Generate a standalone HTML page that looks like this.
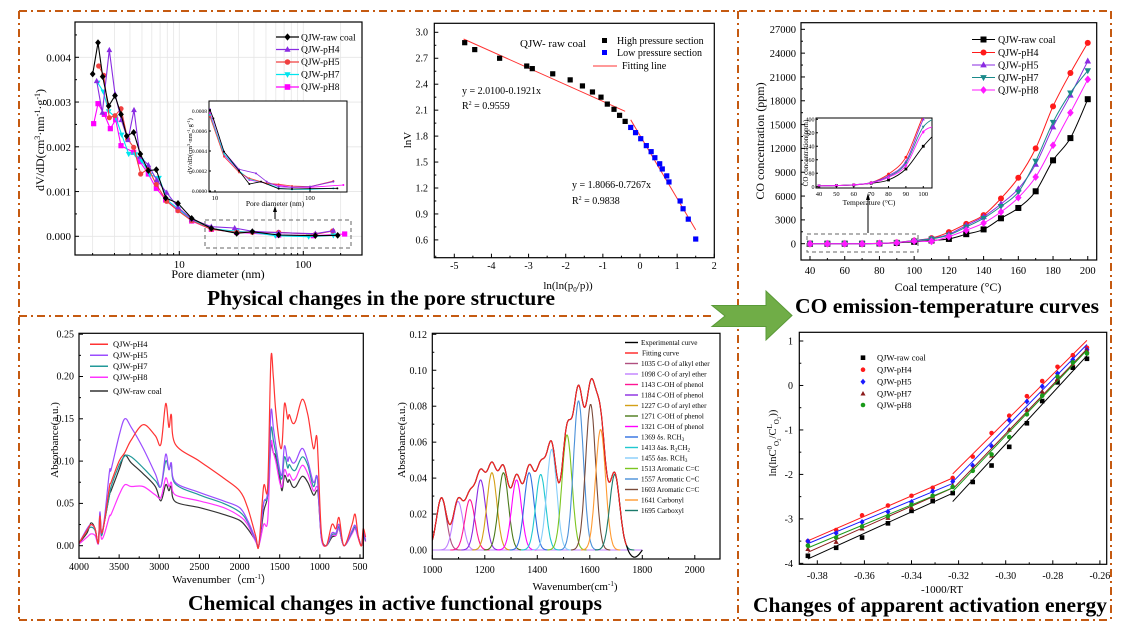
<!DOCTYPE html>
<html><head><meta charset="utf-8">
<style>
html,body{margin:0;padding:0;background:#fff;}
svg{display:block;font-family:"Liberation Serif",serif;}
.t{font-family:"Liberation Serif",serif;fill:#000;}
</style></head>
<body>
<svg id="s" width="1127" height="628" viewBox="0 0 1127 628" xmlns="http://www.w3.org/2000/svg">
<rect width="1127" height="628" fill="#fff"/>
<defs>
<clipPath id="c1"><rect x="75" y="22" width="287" height="233"/></clipPath>
<clipPath id="c1i"><rect x="209" y="101" width="138" height="91"/></clipPath>
<clipPath id="c3i"><rect x="816" y="118" width="116" height="70"/></clipPath>
<clipPath id="c5"><rect x="432" y="333" width="288" height="226"/></clipPath>
</defs>
<g id="borders" fill="none" stroke="#c55a11" stroke-width="2" stroke-dasharray="8 4 2 4">
<line x1="19" y1="11" x2="1111" y2="11"/>
<line x1="19" y1="620" x2="1111" y2="620"/>
<line x1="19" y1="11" x2="19" y2="620"/>
<line x1="1111" y1="11" x2="1111" y2="620"/>
<line x1="19" y1="316" x2="712" y2="316"/>
<line x1="738" y1="11" x2="738" y2="620"/>
</g>
<polygon points="712,305.5 766,305.5 766,291 792,315.5 766,340 766,326.5 712,326.5 725,316" fill="#70ad47" stroke="#5a9a38" stroke-width="1"/>

<!-- Panel 1 -->
<g id="p1"></g>
<rect x="75" y="22" width="287" height="233" fill="none" stroke="#000" stroke-width="1.2"/>
<g class="t" font-size="11" text-anchor="end">
<text x="71" y="240">0.000</text><text x="71" y="195.5">0.001</text><text x="71" y="150.8">0.002</text><text x="71" y="106">0.003</text><text x="71" y="61.3">0.004</text>
</g>
<g class="t" font-size="11" text-anchor="middle"><text x="179.3" y="268">10</text><text x="303.3" y="268">100</text></g>
<text class="t" x="218" y="278" font-size="12" text-anchor="middle">Pore diameter (nm)</text>
<text class="t" font-size="12" text-anchor="middle" transform="translate(44,140) rotate(-90)">dV/dD(cm<tspan font-size="8" dy="-4">3</tspan><tspan dy="4">·nm</tspan><tspan font-size="8" dy="-4">-1</tspan><tspan dy="4">·g</tspan><tspan font-size="8" dy="-4">-1</tspan><tspan dy="4">)</tspan></text>
<g class="t" font-size="9.5"><text x="301" y="40.5">QJW-raw coal</text><text x="301" y="52.5">QJW-pH4</text><text x="301" y="65">QJW-pH5</text><text x="301" y="77.5">QJW-pH7</text><text x="301" y="90">QJW-pH8</text></g>
<rect x="209" y="101" width="138" height="91" fill="#fff" stroke="#000" stroke-width="1"/>
<g id="p1i"></g>
<g class="t" font-size="5.5" text-anchor="end"><text x="207" y="113">0.0008</text><text x="207" y="133">0.0006</text><text x="207" y="153">0.0004</text><text x="207" y="173">0.0002</text><text x="207" y="193">0.0000</text></g>
<g class="t" font-size="6.5" text-anchor="middle"><text x="215" y="200">10</text><text x="310" y="200">100</text></g>
<text class="t" x="275" y="206" font-size="7.5" text-anchor="middle">Pore diameter (nm)</text>
<text class="t" font-size="6.5" text-anchor="middle" transform="translate(192,146) rotate(-90)">dV/dD(cm<tspan font-size="4.5" dy="-2">3</tspan><tspan dy="2">·nm</tspan><tspan font-size="4.5" dy="-2">-1</tspan><tspan dy="2">·g</tspan><tspan font-size="4.5" dy="-2">-1</tspan><tspan dy="2">)</tspan></text>
<rect x="205" y="220" width="146" height="28" fill="none" stroke="#666" stroke-dasharray="4 3"/>
<line x1="275" y1="219" x2="275" y2="210" stroke="#000"/><polygon points="275,206 273,212 277,212" fill="#000"/>
<text class="t" x="207" y="305" font-size="21" font-weight="bold" textLength="348" lengthAdjust="spacingAndGlyphs">Physical changes in the pore structure</text>

<!-- Panel 2 -->
<g id="p2"></g>
<rect x="434.3" y="23.3" width="280" height="234.4" fill="none" stroke="#000" stroke-width="1.2"/>
<g class="t" font-size="10" text-anchor="end">
<text x="428" y="35.5">3.0</text><text x="428" y="61.5">2.7</text><text x="428" y="87.5">2.4</text><text x="428" y="113.5">2.1</text><text x="428" y="139.5">1.8</text><text x="428" y="165.5">1.5</text><text x="428" y="191.5">1.2</text><text x="428" y="217.5">0.9</text><text x="428" y="243.5">0.6</text>
</g>
<g class="t" font-size="10" text-anchor="middle">
<text x="454.3" y="269">-5</text><text x="491.4" y="269">-4</text><text x="528.6" y="269">-3</text><text x="565.7" y="269">-2</text><text x="602.9" y="269">-1</text><text x="640" y="269">0</text><text x="677.1" y="269">1</text><text x="714.3" y="269">2</text>
</g>
<text class="t" x="568" y="289" font-size="11" text-anchor="middle">ln(ln(p<tspan font-size="7" dy="3">0</tspan><tspan dy="-3">/p))</tspan></text>
<text class="t" font-size="11" text-anchor="middle" transform="translate(411,140) rotate(-90)">lnV</text>
<text class="t" x="520" y="47" font-size="11">QJW- raw coal</text>
<g class="t" font-size="10"><text x="617" y="44">High pressure section</text><text x="617" y="56">Low pressure section</text><text x="622" y="69">Fitting line</text></g>
<rect x="602" y="38" width="5" height="5" fill="#000"/><rect x="602" y="50" width="5" height="5" fill="#00f"/>
<line x1="593" y1="66" x2="617" y2="66" stroke="#f33"/>
<g class="t" font-size="10"><text x="462" y="94">y = 2.0100-0.1921x</text><text x="462" y="109">R<tspan font-size="6" dy="-4">2</tspan><tspan dy="4"> = 0.9559</tspan></text>
<text x="572" y="188">y = 1.8066-0.7267x</text><text x="572" y="204">R<tspan font-size="6" dy="-4">2</tspan><tspan dy="4"> = 0.9838</tspan></text></g>

<!-- Panel 3 -->
<g id="p3"></g>
<rect x="801" y="22.7" width="295.7" height="237.3" fill="none" stroke="#000" stroke-width="1.2"/>
<g class="t" font-size="10.5" text-anchor="end">
<text x="796" y="247.5">0</text><text x="796" y="223.7">3000</text><text x="796" y="199.9">6000</text><text x="796" y="176">9000</text><text x="796" y="152.2">12000</text><text x="796" y="128.4">15000</text><text x="796" y="104.6">18000</text><text x="796" y="80.8">21000</text><text x="796" y="57">24000</text><text x="796" y="33.2">27000</text>
</g>
<g class="t" font-size="10.5" text-anchor="middle">
<text x="810" y="274">40</text><text x="844.7" y="274">60</text><text x="879.4" y="274">80</text><text x="914.2" y="274">100</text><text x="948.9" y="274">120</text><text x="983.6" y="274">140</text><text x="1018.3" y="274">160</text><text x="1053" y="274">180</text><text x="1087.7" y="274">200</text>
</g>
<text class="t" x="948" y="291" font-size="12" text-anchor="middle">Coal temperature (°C)</text>
<text class="t" font-size="12" text-anchor="middle" transform="translate(764,141) rotate(-90)">CO concentration (ppm)</text>
<g class="t" font-size="10"><text x="998" y="43">QJW-raw coal</text><text x="998" y="56">QJW-pH4</text><text x="998" y="68.5">QJW-pH5</text><text x="998" y="81">QJW-pH7</text><text x="998" y="93.5">QJW-pH8</text></g>
<rect x="816" y="118" width="116" height="70" fill="#fff" stroke="#000"/>
<g id="p3i"></g>
<g class="t" font-size="6" text-anchor="end"><text x="814.5" y="189">0</text><text x="814.5" y="175.5">80</text><text x="814.5" y="162">160</text><text x="814.5" y="148.5">240</text><text x="814.5" y="135">320</text><text x="814.5" y="121.5">400</text></g>
<g class="t" font-size="6.5" text-anchor="middle"><text x="819" y="196">40</text><text x="836.4" y="196">50</text><text x="853.8" y="196">60</text><text x="871.2" y="196">70</text><text x="888.5" y="196">80</text><text x="905.9" y="196">90</text><text x="923.3" y="196">100</text></g>
<text class="t" x="869" y="205" font-size="7.5" text-anchor="middle">Temperature (°C)</text>
<text class="t" font-size="7" text-anchor="middle" transform="translate(808,153) rotate(-90)">CO concentration(ppm)</text>
<rect x="807" y="234" width="111" height="18" fill="none" stroke="#666" stroke-dasharray="4 3"/>
<line x1="868" y1="233" x2="868" y2="198" stroke="#000"/><polygon points="868,193 866,200 870,200" fill="#000"/>
<text class="t" x="795" y="313" font-size="21" font-weight="bold" textLength="304" lengthAdjust="spacingAndGlyphs">CO emission-temperature curves</text>

<!-- Panel 4 -->
<g id="p4"></g>
<rect x="79" y="333.3" width="284.3" height="225" fill="none" stroke="#000" stroke-width="1.2"/>
<g class="t" font-size="10" text-anchor="end">
<text x="74" y="549">0.00</text><text x="74" y="506.7">0.05</text><text x="74" y="464.4">0.10</text><text x="74" y="422">0.15</text><text x="74" y="379.7">0.20</text><text x="74" y="337.4">0.25</text>
</g>
<g class="t" font-size="10" text-anchor="middle">
<text x="79" y="570">4000</text><text x="119.1" y="570">3500</text><text x="159.3" y="570">3000</text><text x="199.4" y="570">2500</text><text x="239.6" y="570">2000</text><text x="279.7" y="570">1500</text><text x="319.8" y="570">1000</text><text x="360" y="570">500</text>
</g>
<text class="t" x="222" y="583" font-size="11" text-anchor="middle">Wavenumber（cm<tspan font-size="7" dy="-4">-1</tspan><tspan dy="4">）</tspan></text>
<text class="t" font-size="11" text-anchor="middle" transform="translate(58,440) rotate(-90)">Absorbance(a.u.)</text>
<g class="t" font-size="8.5"><text x="113" y="347">QJW-pH4</text><text x="113" y="358">QJW-pH5</text><text x="113" y="369">QJW-pH7</text><text x="113" y="380">QJW-pH8</text><text x="113" y="394">QJW-raw coal</text></g>
<g stroke-width="1.5"><line x1="90" y1="344.3" x2="108" y2="344.3" stroke="#f33"/><line x1="90" y1="355.3" x2="108" y2="355.3" stroke="#9b4dff"/><line x1="90" y1="366.3" x2="108" y2="366.3" stroke="#229999"/><line x1="90" y1="377.3" x2="108" y2="377.3" stroke="#ff33ff"/><line x1="90" y1="391" x2="108" y2="391" stroke="#333"/></g>
<text class="t" x="188" y="610" font-size="21" font-weight="bold" textLength="414" lengthAdjust="spacingAndGlyphs">Chemical changes in active functional groups</text>

<!-- Panel 5 -->
<g id="p5"></g>
<rect x="432.3" y="333.3" width="287.7" height="225.7" fill="none" stroke="#000" stroke-width="1.2"/>
<g class="t" font-size="10" text-anchor="end">
<text x="427" y="553.5">0.00</text><text x="427" y="517.6">0.02</text><text x="427" y="481.6">0.04</text><text x="427" y="445.7">0.06</text><text x="427" y="409.7">0.08</text><text x="427" y="373.8">0.10</text><text x="427" y="337.8">0.12</text>
</g>
<g class="t" font-size="10" text-anchor="middle">
<text x="432.3" y="573">1000</text><text x="484.8" y="573">1200</text><text x="537.3" y="573">1400</text><text x="589.8" y="573">1600</text><text x="642.3" y="573">1800</text><text x="694.8" y="573">2000</text>
</g>
<text class="t" x="575" y="590" font-size="11" text-anchor="middle">Wavenumber(cm<tspan font-size="7" dy="-4">-1</tspan><tspan dy="4">)</tspan></text>
<text class="t" font-size="11" text-anchor="middle" transform="translate(405,440) rotate(-90)">Absorbance(a.u.)</text>
<g id="p5l"></g>
<g class="t" font-size="7.2">
<text x="641" y="345">Experimental curve</text>
<text x="642" y="355.5">Fitting curve</text>
<text x="641" y="366">1035 C-O of alkyl ether</text>
<text x="641" y="376.5">1098 C-O of aryl ether</text>
<text x="641" y="387">1143 C-OH of phenol</text>
<text x="641" y="397.5">1184 C-OH of phenol</text>
<text x="641" y="408">1227 C-O of aryl ether</text>
<text x="641" y="418.5">1271 C-OH of phenol</text>
<text x="641" y="429">1321 C-OH of phenol</text>
<text x="641" y="439.5">1369 δs. RCH<tspan font-size="5" dy="1.5">3</tspan></text>
<text x="641" y="450">1413 δas. R<tspan font-size="5" dy="1.5">2</tspan><tspan dy="-1.5">CH</tspan><tspan font-size="5" dy="1.5">2</tspan></text>
<text x="641" y="460.5">1455 δas. RCH<tspan font-size="5" dy="1.5">3</tspan></text>
<text x="641" y="471">1513 Aromatic C=C</text>
<text x="641" y="481.5">1557 Aromatic C=C</text>
<text x="641" y="492">1603 Aromatic C=C</text>
<text x="641" y="502.5">1641 Carbonyl</text>
<text x="641" y="513">1695 Carboxyl</text>
</g>

<!-- Panel 6 -->
<g id="p6"></g>
<rect x="799.3" y="332.3" width="307.4" height="232" fill="none" stroke="#000" stroke-width="1.2"/>
<g class="t" font-size="10" text-anchor="end">
<text x="793" y="344.5">1</text><text x="793" y="389">0</text><text x="793" y="433.5">-1</text><text x="793" y="478">-2</text><text x="793" y="522.4">-3</text><text x="793" y="567">-4</text>
</g>
<g class="t" font-size="10" text-anchor="middle">
<text x="817.3" y="579">-0.38</text><text x="864.4" y="579">-0.36</text><text x="911.5" y="579">-0.34</text><text x="958.6" y="579">-0.32</text><text x="1005.7" y="579">-0.30</text><text x="1052.8" y="579">-0.28</text><text x="1099.9" y="579">-0.26</text>
</g>
<text class="t" x="942" y="593" font-size="11" text-anchor="middle">-1000/RT</text>
<text class="t" font-size="10.5" text-anchor="middle" transform="translate(776,443) rotate(-90)">ln(lnC<tspan font-size="7" dy="-4">0</tspan><tspan font-size="7" dy="7">O</tspan><tspan font-size="5" dy="2">2</tspan><tspan dy="-5">/C</tspan><tspan font-size="7" dy="-4">L</tspan><tspan font-size="7" dy="7">O</tspan><tspan font-size="5" dy="2">2</tspan><tspan dy="-5">))</tspan></text>
<g class="t" font-size="8.5"><text x="877" y="360.5">QJW-raw coal</text><text x="877" y="372.5">QJW-pH4</text><text x="877" y="384.5">QJW-pH5</text><text x="877" y="396.5">QJW-pH7</text><text x="877" y="408">QJW-pH8</text></g>
<text class="t" x="753" y="612" font-size="21" font-weight="bold" textLength="354" lengthAdjust="spacingAndGlyphs">Changes of apparent activation energy</text>
</svg>
<script>
const NS="http://www.w3.org/2000/svg";
function el(g,tag,a){const e=document.createElementNS(NS,tag);for(const k in a)e.setAttribute(k,a[k]);g.appendChild(e);return e;}
function lin(p){return "M"+p.map(q=>q[0].toFixed(1)+","+q[1].toFixed(1)).join("L");}
function smooth(p){let d="M"+p[0][0]+","+p[0][1];for(let i=0;i<p.length-1;i++){const p0=p[i-1]||p[i],p1=p[i],p2=p[i+1],p3=p[i+2]||p2;const c1=[p1[0]+(p2[0]-p0[0])/6,p1[1]+(p2[1]-p0[1])/6],c2=[p2[0]-(p3[0]-p1[0])/6,p2[1]-(p3[1]-p1[1])/6];d+=`C${c1[0].toFixed(1)},${c1[1].toFixed(1)} ${c2[0].toFixed(1)},${c2[1].toFixed(1)} ${p2[0].toFixed(1)},${p2[1].toFixed(1)}`;}return d;}
function mk(g,t,x,y,c,r){r=r||3;
 if(t=="s")el(g,"rect",{x:x-r,y:y-r,width:2*r,height:2*r,fill:c});
 else if(t=="o")el(g,"circle",{cx:x,cy:y,r:r,fill:c});
 else if(t=="u")el(g,"polygon",{points:`${x},${y-r*1.2} ${x-r*1.1},${y+r*0.8} ${x+r*1.1},${y+r*0.8}`,fill:c});
 else if(t=="v")el(g,"polygon",{points:`${x},${y+r*1.2} ${x-r*1.1},${y-r*0.8} ${x+r*1.1},${y-r*0.8}`,fill:c});
 else if(t=="d")el(g,"polygon",{points:`${x},${y-r*1.3} ${x+r*1.1},${y} ${x},${y+r*1.3} ${x-r*1.1},${y}`,fill:c});}
function ticksY(g,x0,ys,len,dir){ys.forEach(y=>el(g,"line",{x1:x0,y1:y,x2:x0+len*dir,y2:y,stroke:"#000"}));}
function ticksX(g,y0,xs,len){xs.forEach(x=>el(g,"line",{x1:x,y1:y0,x2:x,y2:y0-len,stroke:"#000"}));}

/* Panel 1 */
(function(){const g=document.getElementById("p1");
 const lx=D=>179.3+124*Math.log10(D/10);
 const gg=el(g,"g",{stroke:"#e6e6e6","stroke-width":"0.8"});
 [2,3,4,5,6,7,8,9,10,20,30,40,50,60,70,80,90,100,200].forEach(D=>{const x=lx(D);if(x>75&&x<362)el(gg,"line",{x1:x,y1:22,x2:x,y2:255});});
 [0,1,2,3,4].forEach(i=>{const y=236.3-i*44.75;el(gg,"line",{x1:75,y1:y,x2:362,y2:y});});
 ticksY(g,75,[0,1,2,3,4].map(i=>236.3-i*44.75),4,1);ticksY(g,75,[0,1,2,3,4].map(i=>236.3-(i+.5)*44.75),2,1);
 ticksX(g,255,[lx(10),lx(100)],4);[2,3,4,5,6,7,8,9,20,30,40,50,60,70,80,90,200].forEach(D=>ticksX(g,255,[lx(D)],2));
 const S=[
 ["#000","d",[[278,222],[294,128],[308,230],[326,318],[345,287],[363,343],[380,408],[401,397],[421,462],[445,512],[469,509],[497,594],[534,610],[575,655],[634,685],[710,700],[757,695],[836,705],[946,707],[1013,706]]],
 ["#8a2be2","u",[[290,243],[307,338],[328,150],[345,282],[364,360],[384,420],[402,330],[420,470],[445,495],[470,540],[500,578],[534,622],[575,658],[634,680],[704,684],[757,694],[836,698],[946,701],[1000,692]]],
 ["#f04040","o",[[296,198],[311,226],[328,353],[345,347],[363,326],[383,418],[401,442],[422,522],[445,506],[469,553],[500,604],[534,632],[575,662],[634,688],[710,697],[757,697],[836,697],[946,703],[998,693]]],
 ["#00e5ee","v",[[293,248],[310,275],[326,334],[347,352],[365,404],[386,462],[406,463],[425,482],[450,524],[477,534],[504,602],[534,626],[575,660],[634,686],[710,694],[757,697],[826,707],[926,710],[1000,706]]],
 ["#ff00ff","s",[[281,371],[294,311],[313,343],[331,386],[347,359],[363,437],[401,457],[420,485],[445,522],[469,565],[497,600],[534,630],[575,663],[634,688],[710,697],[836,705],[940,707],[1034,702]]]];
 const order=[4,3,2,1,0];
 order.forEach(i=>{const s=S[i];const p=s[2].map(q=>[q[0]/3,q[1]/3]);el(g,"path",{d:lin(p),fill:"none",stroke:s[0],"stroke-width":1.1});p.forEach(q=>mk(g,s[1],q[0],q[1],s[0],2.6));});
 const ly=[37,49.5,62,74.5,87];
 S.forEach((s,i)=>{el(g,"line",{x1:276,y1:ly[i],x2:299,y2:ly[i],stroke:s[0],"stroke-width":1.2});mk(g,s[1],287.5,ly[i],s[0],2.8);});
 const gi=document.getElementById("p1i");const ci=el(gi,"g",{"clip-path":"url(#c1i)"});
 const I=[["#ff00ff",[[630,340],[672,465],[717,513],[748,540],[800,550],[876,562],[930,562],[1030,555]]],
 ["#00e5ee",[[630,345],[672,462],[717,512],[748,538],[800,550],[836,565],[876,568],[930,568],[1000,565]]],
 ["#f04040",[[630,350],[672,470],[717,517],[748,535],[800,550],[836,553],[876,558],[930,560],[1000,543]]],
 ["#8a2be2",[[630,328],[672,455],[717,508],[768,520],[800,545],[836,560],[876,562],[930,560],[1000,545]]],
 ["#000",[[630,330],[640,355],[672,455],[717,512],[748,552],[783,545],[836,566],[876,567],[930,566],[1012,565]]]];
 I.forEach(s=>{const p=s[1].map(q=>[q[0]/3,q[1]/3]);el(ci,"path",{d:lin(p),fill:"none",stroke:s[0],"stroke-width":0.8});p.forEach(q=>el(ci,"circle",{cx:q[0],cy:q[1],r:1,fill:s[0]}));});
 ticksY(gi,209,[111,131,151,171,191],2,1);ticksX(gi,192,[215,310],2);
})();

/* Panel 2 */
(function(){const g=document.getElementById("p2");const X=x=>640+37.14*x,Y=y=>32.3+(3-y)*86.5;
 ticksY(g,434.3,[3,2.7,2.4,2.1,1.8,1.5,1.2,.9,.6].map(Y),4,1);ticksY(g,434.3,[2.85,2.55,2.25,1.95,1.65,1.35,1.05,.75].map(Y),2,1);
 ticksX(g,257.7,[-5,-4,-3,-2,-1,0,1,2].map(X),4);ticksX(g,257.7,[-5.5,-4.5,-3.5,-2.5,-1.5,-.5,.5,1.5].map(X),2);
 el(g,"line",{x1:X(-4.75),y1:Y(2.01+.1921*4.75),x2:X(-.4),y2:Y(2.01+.1921*.4),stroke:"#f33","stroke-width":1});
 el(g,"line",{x1:X(-.25),y1:Y(1.8066+.7267*.25),x2:X(1.5),y2:Y(1.8066-.7267*1.5),stroke:"#f33","stroke-width":1});
 [[-4.72,2.88],[-4.45,2.80],[-3.78,2.70],[-3.05,2.61],[-2.9,2.58],[-2.35,2.52],[-1.88,2.45],[-1.55,2.38],[-1.28,2.31],[-1.05,2.25],[-.88,2.17],[-.7,2.11],[-.55,2.04],[-.4,1.97]].forEach(q=>mk(g,"s",X(q[0]),Y(q[1]),"#000",2.6));
 [[-.25,1.9],[-.12,1.84],[.02,1.77],[.17,1.69],[.3,1.62],[.4,1.55],[.53,1.48],[.6,1.42],[.72,1.34],[.78,1.27],[1.08,1.05],[1.16,.96],[1.3,.84],[1.5,.61]].forEach(q=>mk(g,"s",X(q[0]),Y(q[1]),"#00f",2.6));
})();

/* Panel 3 */
(function(){const g=document.getElementById("p3");const X=t=>810+(t-40)*1.736,Y=c=>243.7-c*23.82/3000;
 const T=[40,50,60,70,80,90,100,110,120,130,140,150,160,170,180,190,200];
 const S=[["#000","s",[0,0,0,0,30,100,240,400,600,1200,1800,3200,4500,6600,10500,13300,18200]],
 ["#ff1a1a","o",[0,0,0,0,50,170,400,700,1450,2500,3600,5700,8300,12000,17300,21500,25300]],
 ["#8a2be2","u",[0,0,0,0,40,150,400,650,1200,2300,3400,5000,6900,10000,14700,18700,23000]],
 ["#1a8a8a","v",[0,0,0,0,40,140,360,600,1100,2100,3200,4700,6500,10400,15300,19000,21800]],
 ["#ff1aff","d",[0,0,0,0,40,120,330,300,900,1700,2600,4000,5800,8400,12400,16500,20700]]];
 ticksY(g,801,[0,3,6,9,12,15,18,21,24,27].map(v=>Y(v*1000)),4,1);ticksY(g,801,[1.5,4.5,7.5,10.5,13.5,16.5,19.5,22.5,25.5].map(v=>Y(v*1000)),2,1);
 ticksX(g,260,[40,60,80,100,120,140,160,180,200].map(X),4);ticksX(g,260,[50,70,90,110,130,150,170,190].map(X),2);
 S.forEach(s=>{const p=T.map((t,i)=>[X(t),Y(s[2][i])]);el(g,"path",{d:smooth(p),fill:"none",stroke:s[0],"stroke-width":1});p.forEach(q=>mk(g,s[1],q[0],q[1],s[0],3));});
 const ly=[39.5,52.5,65,77.5,90];
 S.forEach((s,i)=>{el(g,"line",{x1:972,y1:ly[i],x2:995,y2:ly[i],stroke:s[0]});mk(g,s[1],983.5,ly[i],s[0],3);});
 const gi=document.getElementById("p3i");const ci=el(gi,"g",{"clip-path":"url(#c3i)"});
 const XI=t=>819+(t-40)*1.738,YI=c=>186.7-c*0.1685;const TI=[40,50,60,70,80,90,100,110];
 const SI=[["#000","s",[5,7,10,20,40,105,240,350]],["#ff1a1a","o",[5,7,12,25,75,175,420,600]],["#8a2be2","u",[5,7,12,25,65,150,400,560]],["#1a8a8a","v",[5,7,11,22,58,140,355,420]],["#ff1aff","d",[5,7,11,22,55,125,325,360]]];
 SI.forEach(s=>{const p=TI.map((t,i)=>[XI(t),YI(s[2][i])]);el(ci,"path",{d:smooth(p),fill:"none",stroke:s[0],"stroke-width":0.9});p.slice(0,7).forEach(q=>mk(ci,s[1],q[0],q[1],s[0],1.4));});
 ticksY(gi,816,[0,80,160,240,320,400].map(YI),2,1);ticksX(gi,188,[40,50,60,70,80,90,100].map(XI),2);
})();

/* Panel 4 */
(function(){const g=document.getElementById("p4");const X=w=>79+(4000-w)*0.08028,Y=a=>545.7-a*846;
 const W=[4000,3900,3850,3800,3760,3740,3720,3680,3620,3600,3500,3430,3350,3200,3050,2980,2920,2880,2850,2800,2500,2200,2000,1900,1800,1760,1700,1650,1610,1580,1550,1500,1470,1440,1400,1380,1340,1300,1220,1150,1080,1040,1020,980,920,850,800,760,700,600,560,520,480,460,430];
 const S=[
 ["#333",[0.003,0.015,0.027,0.02,0.003,0.038,0.015,0.03,0.06,0.065,0.09,0.107,0.098,0.085,0.07,0.053,0.072,0.065,0.07,0.052,0.045,0.037,0.03,0.02,0.006,0,0.04,0.06,0.118,0.11,0.105,0.08,0.065,0.083,0.075,0.078,0.07,0.07,0.082,0.075,0.06,0.065,0.06,0.01,0,0.01,0.012,0.02,0,0.015,0.022,0.01,0,0.012,0.005]],
 ["#ff33ff",[0.002,0.01,0.014,0.012,0.002,0.025,0.008,0.015,0.035,0.037,0.06,0.072,0.07,0.07,0.06,0.057,0.08,0.07,0.075,0.06,0.053,0.045,0.035,0.025,0.005,0,0.025,0.03,0.12,0.11,0.1,0.075,0.07,0.09,0.082,0.085,0.078,0.08,0.095,0.085,0.065,0.07,0.063,0.008,0,0.012,0.012,0.02,0,0.014,0.02,0.008,0,0.012,0.005]],
 ["#229999",[0.003,0.018,0.022,0.018,0.003,0.035,0.012,0.03,0.06,0.07,0.095,0.106,0.105,0.092,0.077,0.07,0.1,0.09,0.095,0.073,0.06,0.05,0.04,0.028,0.007,0,0.05,0.06,0.137,0.125,0.11,0.085,0.08,0.105,0.092,0.096,0.09,0.09,0.105,0.095,0.07,0.083,0.068,0.01,0,0.013,0.014,0.022,0,0.016,0.022,0.01,0,0.013,0.006]],
 ["#9b4dff",[0.003,0.02,0.025,0.02,0.003,0.04,0.015,0.035,0.088,0.09,0.13,0.15,0.14,0.115,0.085,0.07,0.108,0.09,0.098,0.075,0.063,0.053,0.045,0.03,0.008,0,0.05,0.065,0.158,0.14,0.12,0.09,0.085,0.118,0.1,0.105,0.098,0.1,0.115,0.1,0.075,0.083,0.07,0.01,0,0.015,0.015,0.025,0,0.018,0.024,0.01,0,0.015,0.007]],
 ["#f33",[0.003,0.018,0.025,0.02,0.003,0.035,0.015,0.03,0.07,0.075,0.1,0.11,0.125,0.143,0.13,0.12,0.168,0.14,0.155,0.12,0.1,0.08,0.065,0.045,0.012,0,0.07,0.07,0.22,0.2,0.16,0.12,0.12,0.168,0.15,0.155,0.145,0.148,0.173,0.155,0.115,0.13,0.1,0.015,0,0.025,0.02,0.033,0,0.025,0.037,0.01,0,0.02,0.01]]];
 ticksY(g,79,[0,.05,.1,.15,.2,.25].map(Y),4,1);ticksY(g,79,[.025,.075,.125,.175,.225].map(Y),2,1);
 ticksX(g,558.3,[4000,3500,3000,2500,2000,1500,1000,500].map(X),4);ticksX(g,558.3,[3750,3250,2750,2250,1750,1250,750].map(X),2);
 S.forEach(s=>{const p=W.map((w,i)=>[X(w),Y(s[1][i])]);el(g,"path",{d:smooth(p),fill:"none",stroke:s[0],"stroke-width":1.2});});
})();

/* Panel 5 */
(function(){const g=document.getElementById("p5");const X=w=>432.3+(w-1000)*0.2625,Y=a=>550-a*1797.5;
 ticksY(g,432.3,[0,.02,.04,.06,.08,.1,.12].map(Y),4,1);ticksY(g,432.3,[.01,.03,.05,.07,.09,.11].map(Y),2,1);
 ticksX(g,559,[1000,1200,1400,1600,1800,2000].map(X),4);ticksX(g,559,[1100,1300,1500,1700,1900].map(X),2);
 const P=[[1035,.029,"#b04f7f"],[1098,.027,"#c080ff"],[1143,.028,"#ff1493"],[1184,.039,"#8a2be2"],[1227,.043,"#d4a017"],[1271,.043,"#4b7a1a"],[1321,.039,"#ff00ff"],[1369,.043,"#3070e0"],[1413,.042,"#20c8d0"],[1455,.056,"#87cefa"],[1513,.064,"#7cc520"],[1557,.083,"#4a90d9"],[1603,.081,"#7b4b3a"],[1641,.067,"#ff9a30"],[1695,.042,"#1a7a6a"]];
 const sg=19;const cg=el(g,"g",{"clip-path":"url(#c5)"});
 el(cg,"line",{x1:X(1000),y1:Y(0),x2:X(1800),y2:Y(0),stroke:"#c080ff","stroke-width":1});
 P.forEach(p=>{const pts=[];for(let w=Math.max(1000,p[0]-75);w<=Math.min(1800,p[0]+75);w+=2)pts.push([X(w),Y(p[1]*Math.exp(-((w-p[0])**2)/(2*sg*sg)))]);el(cg,"path",{d:lin(pts),fill:"none",stroke:p[2],"stroke-width":1.1});});
 const sum=w=>P.reduce((a,p)=>a+p[1]*Math.exp(-((w-p[0])**2)/(2*sg*sg)),0);
 const ex=[];for(let w=1000;w<=1800;w+=2){let v=sum(w);if(w>1740)v=v-0.004*Math.sin((w-1740)/60*Math.PI)*(w<1800?1:0);ex.push([X(w),Y(v)]);}
 el(cg,"path",{d:lin(ex),fill:"none",stroke:"#000","stroke-width":1.2});
 const fc=[];for(let w=1000;w<=1740;w+=2)fc.push([X(w),Y(sum(w))]);
 el(cg,"path",{d:lin(fc),fill:"none",stroke:"#f22","stroke-width":1.1});
 const lg=document.getElementById("p5l");const cols=["#000","#f22"].concat(P.map(p=>p[2]));
 cols.forEach((c,i)=>el(lg,"line",{x1:625,y1:342.5+i*10.5,x2:638,y2:342.5+i*10.5,stroke:c,"stroke-width":1.4}));
})();

/* Panel 6 */
(function(){const g=document.getElementById("p6");const X=x=>817.3+(x+0.38)*2355,Y=y=>341+(1-y)*44.47;
 ticksY(g,799.3,[1,0,-1,-2,-3,-4].map(Y),4,1);ticksY(g,799.3,[.5,-.5,-1.5,-2.5,-3.5].map(Y),2,1);
 ticksX(g,564.3,[-.38,-.36,-.34,-.32,-.30,-.28,-.26].map(X),4);ticksX(g,564.3,[-.37,-.35,-.33,-.31,-.29,-.27].map(X),2);
 const xs=[-.384,-.372,-.361,-.350,-.340,-.331,-.3225,-.314,-.306,-.2985,-.291,-.2845,-.278,-.2715,-.2655];
 const S=[["#000","s",[-3.83,-3.65,-3.42,-3.1,-2.82,-2.6,-2.42,-2.17,-1.8,-1.38,-.85,-.35,.07,.4,.6]],
 ["#ff1a1a","o",[-3.5,-3.25,-2.92,-2.7,-2.48,-2.3,-2.08,-1.6,-1.07,-.68,-.24,.1,.42,.68,.85]],
 ["#1a1aff","d",[-3.5,-3.32,-3.07,-2.84,-2.62,-2.38,-2.16,-1.8,-1.36,-.78,-.36,-.02,.27,.58,.8]],
 ["#8b1a1a","u",[-3.68,-3.52,-3.22,-2.98,-2.75,-2.5,-2.25,-1.88,-1.58,-1,-.55,-.14,.15,.48,.78]],
 ["#1a9a1a","o",[-3.6,-3.42,-3.17,-2.94,-2.68,-2.48,-2.28,-1.92,-1.55,-1.16,-.65,-.23,.2,.52,.72]]];
 function fit(a,b){const n=a.length;const mx=a.reduce((s,v)=>s+v,0)/n,my=b.reduce((s,v)=>s+v,0)/n;let sxy=0,sxx=0;for(let i=0;i<n;i++){sxy+=(a[i]-mx)*(b[i]-my);sxx+=(a[i]-mx)**2;}const k=sxy/sxx;return [k,my-k*mx];}
 S.forEach(s=>{const f1=fit(xs.slice(0,7),s[2].slice(0,7)),f2=fit(xs.slice(6),s[2].slice(6));
  el(g,"line",{x1:X(-.384),y1:Y(f1[0]*-.384+f1[1]),x2:X(-.3225),y2:Y(f1[0]*-.3225+f1[1]),stroke:s[0],"stroke-width":1});
  el(g,"line",{x1:X(-.3225),y1:Y(f2[0]*-.3225+f2[1]),x2:X(-.2655),y2:Y(f2[0]*-.2655+f2[1]),stroke:s[0],"stroke-width":1});
  xs.forEach((x,i)=>mk(g,s[1],X(x),Y(s[2][i]),s[0],2.3));});
 const ly=[357.7,369.7,381.7,393.7,405];S.forEach((s,i)=>mk(g,s[1],863,ly[i],s[0],2.3));
})();
</script>
</body></html>
